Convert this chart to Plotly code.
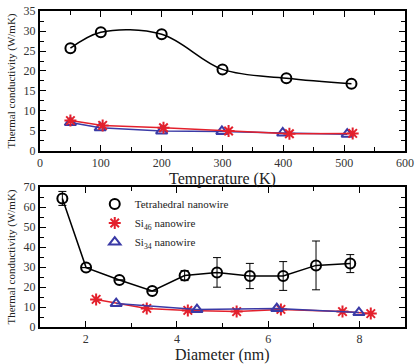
import plotly.graph_objects as go

# Thermal conductivity vs temperature
temp_tetra = [50, 100, 200, 300, 405, 512]
k_tetra_T = [25.7, 29.7, 29.2, 20.4, 18.2, 16.8]
temp_si46 = [50, 103, 203, 310, 410, 514]
k_si46_T = [7.6, 6.4, 5.8, 5.0, 4.3, 4.4]
temp_si34 = [50, 99, 200, 299, 399, 505]
k_si34_T = [7.1, 5.8, 5.0, 4.9, 4.5, 4.2]

# Thermal conductivity vs diameter
d_tetra = [1.49, 2.01, 2.74, 3.46, 4.17, 4.88, 5.6, 6.33, 7.05, 7.8]
k_tetra_d = [64.3, 29.7, 23.5, 18.0, 25.7, 27.3, 25.5, 25.5, 30.8, 31.7]
err_tetra_d = [3.5, 0, 0, 0, 2.5, 7.4, 6.3, 7.2, 12.2, 4.5]
d_si46 = [2.23, 3.34, 4.24, 5.31, 6.28, 7.63, 8.25]
k_si46_d = [13.8, 9.3, 8.3, 7.7, 8.8, 7.7, 6.7]
d_si34 = [2.67, 4.44, 6.19, 7.99]
k_si34_d = [11.7, 8.7, 9.2, 7.2]

names = ["Tetrahedral nanowire", "Si<sub>46</sub> nanowire", "Si<sub>34</sub> nanowire"]
x_titles = ["Temperature (K)", "Diameter (nm)"]
y_title = "Thermal conductivity (W/mK)"

BLACK = "#000000"
RED = "#e3202c"
BLUE = "#3a3aa6"
TEXT = "#222222"
FONT = "'Liberation Serif', 'Times New Roman', 'DejaVu Serif', serif"

fig = go.Figure()

def add(x, y, color, symbol, xa, ya, shape="linear", name=None, legend=False, err=None):
    fig.add_trace(go.Scatter(
        x=x, y=y, mode="lines", xaxis=xa, yaxis=ya,
        line=dict(color=color, width=1.5, shape=shape, smoothing=1.0),
        showlegend=False, hoverinfo="skip"))
    fig.add_trace(go.Scatter(
        x=x, y=y, mode="markers", xaxis=xa, yaxis=ya, name=name,
        showlegend=legend,
        marker=dict(symbol=symbol, size=10, color=color,
                    line=dict(color=color, width=2)),
        error_y=(dict(type="data", array=err, visible=True, color=color,
                      thickness=1, width=4) if err is not None else None)))

# top panel
add(temp_si34, k_si34_T, BLUE, "triangle-up-open", "x", "y")
add(temp_si46, k_si46_T, RED, "asterisk-open", "x", "y")
add(temp_tetra, k_tetra_T, BLACK, "circle-open", "x", "y", shape="spline")

# bottom panel
add(d_tetra, k_tetra_d, BLACK, "circle-open", "x2", "y2", name=names[0], legend=True, err=err_tetra_d)
add(d_si46, k_si46_d, RED, "asterisk-open", "x2", "y2", name=names[1], legend=True)
add(d_si34, k_si34_d, BLUE, "triangle-up-open", "x2", "y2", name=names[2], legend=True)

axis_common = dict(
    showline=True, linecolor="black", linewidth=2, mirror="allticks",
    ticks="inside", ticklen=6, tickwidth=1.2, tickcolor="black",
    showgrid=False, zeroline=False,
    tickfont=dict(family=FONT, size=12, color="#333333"),
    automargin=False,
)
minor_common = dict(ticks="inside", ticklen=4, tickwidth=1.2, tickcolor="black", showgrid=False)
ytitle_font = dict(size=11, family=FONT, color=TEXT)

fig.update_layout(
    width=417, height=364,
    margin=dict(l=40, r=12, t=11, b=37),
    plot_bgcolor="white", paper_bgcolor="white",
    font=dict(family=FONT, color=TEXT),
    xaxis=dict(axis_common, domain=[0, 1], anchor="y", range=[0, 600], dtick=100,
               minor=dict(minor_common, dtick=50)),
    yaxis=dict(axis_common, domain=[0.557, 1], anchor="x", range=[0, 35], dtick=5,
               minor=dict(minor_common, dtick=2.5),
               title=dict(text=y_title, font=ytitle_font, standoff=6)),
    xaxis2=dict(axis_common, domain=[0, 1], anchor="y2", range=[1, 9], dtick=2, tick0=0,
                minor=dict(minor_common, dtick=1)),
    yaxis2=dict(axis_common, domain=[0, 0.443], anchor="x2", range=[0, 70], dtick=10,
                minor=dict(minor_common, dtick=5),
                title=dict(text=y_title, font=ytitle_font, standoff=6)),
    legend=dict(x=0.15, y=0.435, xanchor="left", yanchor="top",
                bgcolor="rgba(0,0,0,0)", font=dict(family=FONT, size=11, color=TEXT),
                itemwidth=30, tracegroupgap=0),
)

# x-axis titles placed just below each panel's tick labels
xtitle_font = dict(size=16, family=FONT, color=TEXT)
fig.add_annotation(text=x_titles[0], xref="paper", yref="paper", x=0.5, y=0.557,
                   yshift=-17, yanchor="top", showarrow=False, font=xtitle_font)
fig.add_annotation(text=x_titles[1], xref="paper", yref="paper", x=0.5, y=0.0,
                   yshift=-17, yanchor="top", showarrow=False, font=xtitle_font)

fig.write_html("out.html")
